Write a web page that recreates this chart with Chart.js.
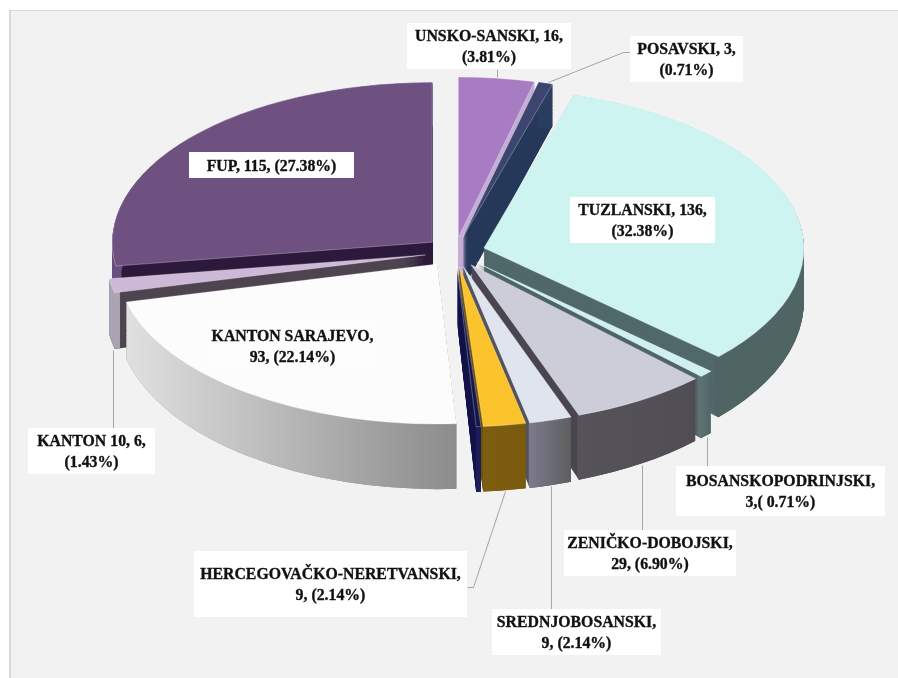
<!DOCTYPE html>
<html><head><meta charset="utf-8">
<style>html,body{margin:0;padding:0;background:#fff}
#wrap{position:absolute;left:0;top:0;width:898px;height:678px}
canvas{display:block}</style>
<script src="https://cdn.jsdelivr.net/npm/chart.js@4"></script></head>
<body><div id="wrap"><canvas id="c" width="898" height="678"></canvas></div>
<script>
const categories=["UNSKO-SANSKI","POSAVSKI","TUZLANSKI","BOSANSKOPODRINJSKI","ZENIČKO-DOBOJSKI","SREDNJOBOSANSKI","HERCEGOVAČKO-NERETVANSKI","ZAPADNOHERCEGOVAČKI","KANTON SARAJEVO","KANTON 10","FUP"];
const values=[16,3,136,3,29,9,9,1,93,6,115];
const topColors=["#a87cc2","#3c4570","#cdf4f1","#cfeff0","#cccdd9","#dfe4ef","#fbc42c","#16164f","#fcfcfc","#cdb8d8","#6e5181"];
const cutColors=["#c4aed6","#26395a","#51696a","#4f6567","#4a4650","#55545c","#6f520c","#15154a","#8c8c8c","#4f4550","#2d1a3c"];
const wallFrom=["#c4aed6","#2a3d60","#566c6b","#5f7273","#565259","#7d7a8c","#7d5d10","#1c1c58","#e0e0e0","#aaa4b2","#6a4f7e"];
const wallTo=["#c4aed6","#2a3d60","#4f6563","#4f6567","#514d55","#5c5f5e","#7a5a0e","#1c1c58","#8c8c8c","#aaa4b2","#6a4f7e"];
const labelLines=[["UNSKO-SANSKI, 16,","(3.81%)"],["POSAVSKI, 3,","(0.71%)"],["TUZLANSKI, 136,","(32.38%)"],["BOSANSKOPODRINJSKI,","3,( 0.71%)"],["ZENIČKO-DOBOJSKI,","29, (6.90%)"],["SREDNJOBOSANSKI,","9, (2.14%)"],["HERCEGOVAČKO-NERETVANSKI,","9, (2.14%)"],null,["KANTON SARAJEVO,","93, (22.14%)"],["KANTON 10, 6,","(1.43%)"],["FUP, 115, (27.38%)"]];
// label boxes [left, top, right, bottom] and leader polylines
const labelBoxes=[[407,23,571,69],[630,36,743,82],[570,197,715,243],[676,466,885,516],[564,530,736,576],[492,609,661,655],[194,551,467,617],null,[205,322,380,370],[28,428,155,474],[189,152,354,178]];
const leaders=[[[497,69],[497,77]],[[630,52],[623,52],[548,82]],null,[[707,437],[707,466]],[[642,465],[642,530]],[[551,486],[551,609]],[[505,491],[473,587],[467,587]],null,null,[[113,350],[113,428]],null];
const drawOrder=[10,0,1,9,2,8,3,4,5,6,7];
const view={cx:455,cy:252,rx:320,ry:160,explode:30,backY:83,backDepth:42,grow:0.0676,depthSteps:72};

function arcOpts(fill,stroke,w){return{backgroundColor:fill,borderColor:stroke||fill,borderWidth:w||0,borderAlign:'center',borderDash:[],borderDashOffset:0,borderJoinStyle:'round',offset:0,spacing:0,circular:true,borderRadius:0,selfJoin:false};}

const pie3d={id:'pie3d',
 beforeDatasetsDraw(chart){
  const ctx=chart.ctx,arcs=chart.getDatasetMeta(0).data,R=arcs[0].outerRadius;
  const sx=view.rx/R,sy=view.ry/R,ex=view.explode/sx;
  const place=(t,el)=>{
    const mid=(el.startAngle+el.endAngle)/2;
    ctx.setTransform(1,0,0,1,0,0);
    ctx.translate(0,view.backY+view.backDepth*t);
    ctx.scale(1,1+view.grow*t);
    ctx.translate(0,-view.backY);
    ctx.translate(view.cx,view.cy);
    ctx.scale(sx,sy);
    ctx.translate(Math.cos(mid)*ex-el.x,Math.sin(mid)*ex-el.y);
  };
  ctx.save();
  drawOrder.forEach(i=>{
    const el=arcs[i],saved=el.options,inner=el.innerRadius;
    // radial cut faces
    el.options=arcOpts(cutColors[i]);
    for(let s=view.depthSteps;s>=1;s--){place(s/view.depthSteps,el);el.draw(ctx);}
    // curved outer wall: same arc drawn as a thin ring
    const x0=el.x+R*Math.min(Math.cos(el.startAngle),Math.cos(el.endAngle)),x1=el.x+R*Math.max(Math.cos(el.startAngle),Math.cos(el.endAngle));
    const gg=ctx.createLinearGradient(x0,0,x1,0);
    gg.addColorStop(0,wallFrom[i]);gg.addColorStop(1,wallTo[i]);
    el.options=arcOpts(gg);
    el.innerRadius=R-6;
    for(let s=view.depthSteps;s>=1;s--){place(s/view.depthSteps,el);el.draw(ctx);}
    el.innerRadius=inner;
    // top face
    el.options=arcOpts(topColors[i],'rgba(255,255,255,0.4)',1);
    place(0,el);el.draw(ctx);
    el.options=saved;
  });
  ctx.restore();
  return false;
 },
 afterDraw(chart){
  const ctx=chart.ctx;
  ctx.save();ctx.setTransform(1,0,0,1,0,0);
  ctx.strokeStyle='#a6a6a6';ctx.lineWidth=1;
  leaders.forEach(l=>{if(!l)return;ctx.beginPath();l.forEach((p,k)=>k?ctx.lineTo(p[0]+.5,p[1]+.5):ctx.moveTo(p[0]+.5,p[1]+.5));ctx.stroke();});
  ctx.font='bold 15.8px "Liberation Serif"';ctx.textAlign='center';ctx.textBaseline='middle';ctx.lineJoin='round';
  labelBoxes.forEach((b,i)=>{if(!b)return;
    ctx.fillStyle=i===8?'#fdfdfd':'#fff';ctx.fillRect(b[0],b[1],b[2]-b[0],b[3]-b[1]);
    ctx.fillStyle='#111';ctx.strokeStyle='#111';ctx.lineWidth=0.35;
    const ls=labelLines[i],mx=(b[0]+b[2])/2,my=(b[1]+b[3])/2+1.5;
    ls.forEach((t,k)=>{const y=my+(k-(ls.length-1)/2)*21.5;ctx.fillText(t,mx,y);ctx.strokeText(t,mx,y);});
  });
  ctx.restore();
 }};
const frame={id:'frame',beforeDraw(chart){const c=chart.ctx;c.save();c.fillStyle='#f2f2f2';c.fillRect(9,10,889,668);c.strokeStyle='#d9d9d9';c.lineWidth=2;c.beginPath();c.moveTo(10,678);c.lineTo(10,10.5);c.stroke();c.lineWidth=1;c.beginPath();c.moveTo(9,10.5);c.lineTo(898,10.5);c.stroke();c.restore();}};
new Chart(document.getElementById('c'),{type:'pie',
 data:{labels:categories,datasets:[{data:values,backgroundColor:topColors,borderWidth:0}]},
 plugins:[frame,pie3d],
 options:{responsive:false,animation:false,rotation:0,layout:{padding:0},
  plugins:{legend:{display:false},tooltip:{enabled:false}}}});
</script></body></html>
